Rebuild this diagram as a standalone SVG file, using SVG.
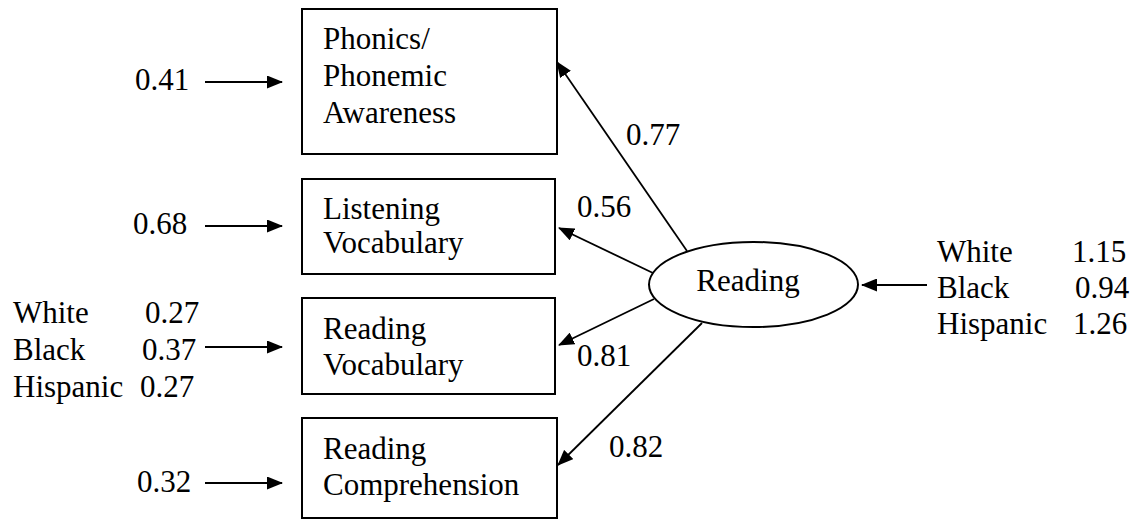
<svg xmlns="http://www.w3.org/2000/svg" width="1142" height="519" viewBox="0 0 1142 519">
<style>
.box{fill:#fff;stroke:#000;stroke-width:2}
.t{font-family:"Liberation Serif",Tinos,"Times New Roman",Times,"Nimbus Roman","DejaVu Serif",serif;font-size:31px;fill:#000}
.c{stroke:#000;stroke-width:1.8;fill:none;marker-end:url(#ah)}
</style>
<defs>
<marker id="ah" viewBox="0 0 16 13" refX="15" refY="6.5" markerWidth="16" markerHeight="13" markerUnits="userSpaceOnUse" orient="auto">
<path d="M0,0 L16,6.5 L0,13 z" fill="#000"/>
</marker>
</defs>
<rect width="1142" height="519" fill="#fff"/>
<g id="phonics">
<rect class="box" x="302" y="9" width="255" height="145"/>
<text class="t" x="323" y="49">Phonics/</text>
<text class="t" x="323" y="86">Phonemic</text>
<text class="t" x="323" y="123">Awareness</text>
</g>
<g id="listening">
<rect class="box" x="302" y="179" width="253" height="95"/>
<text class="t" x="323" y="219">Listening</text>
<text class="t" x="323" y="253">Vocabulary</text>
</g>
<g id="readvocab">
<rect class="box" x="302" y="298" width="253" height="96"/>
<text class="t" x="323" y="339">Reading</text>
<text class="t" x="323" y="375">Vocabulary</text>
</g>
<g id="readcomp">
<rect class="box" x="302" y="418" width="255" height="100"/>
<text class="t" x="323" y="459">Reading</text>
<text class="t" x="323" y="495">Comprehension</text>
</g>
<g id="reading">
<ellipse class="box" cx="753.5" cy="284.5" rx="104.5" ry="42.5"/>
<text class="t" x="748" y="291" text-anchor="middle">Reading</text>
</g>
<g id="labels-left">
<text class="t" x="135" y="90">0.41</text>
<text class="t" x="133" y="234">0.68</text>
<text class="t" x="13" y="323">White</text>
<text class="t" x="145" y="323">0.27</text>
<text class="t" x="13" y="360">Black</text>
<text class="t" x="142" y="360">0.37</text>
<text class="t" x="13" y="397">Hispanic</text>
<text class="t" x="140" y="397">0.27</text>
<text class="t" x="137" y="492">0.32</text>
</g>
<g id="labels-right">
<text class="t" x="937" y="262">White</text>
<text class="t" x="1072" y="262">1.15</text>
<text class="t" x="937" y="298">Black</text>
<text class="t" x="1075" y="298">0.94</text>
<text class="t" x="937" y="334">Hispanic</text>
<text class="t" x="1073" y="334">1.26</text>
</g>
<g id="connectors">
<line class="c" x1="205" y1="82" x2="282" y2="82"/>
<line class="c" x1="205" y1="226" x2="282" y2="226"/>
<line class="c" x1="205" y1="347" x2="282" y2="347"/>
<line class="c" x1="205" y1="483" x2="282" y2="483"/>
<line class="c" x1="927" y1="285" x2="862" y2="285"/>
<line class="c" x1="687" y1="251" x2="557" y2="62"/>
<line class="c" x1="653" y1="273" x2="559" y2="228"/>
<line class="c" x1="654" y1="299" x2="559" y2="345"/>
<line class="c" x1="702" y1="323" x2="558" y2="465"/>
</g>
<g id="path-labels">
<text class="t" x="626" y="145">0.77</text>
<text class="t" x="577" y="217">0.56</text>
<text class="t" x="577" y="366">0.81</text>
<text class="t" x="609" y="457">0.82</text>
</g>
</svg>
